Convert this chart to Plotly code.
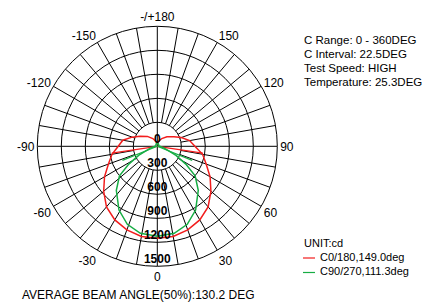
import plotly.graph_objects as go

# ---------------- data ----------------
red_gamma = [-180, -165, -150, -135, -120, -110, -100, -90, -80, -70, -60, -50, -40, -30, -20, -10,
             0, 10, 20, 30, 40, 50, 60, 70, 80, 90, 100, 110, 120, 135, 150, 165, 180]
red_cd = [25, 62, 112, 175, 250, 335, 438, 488, 575, 650, 762, 875, 988, 1062, 1112, 1144,
          1150, 1144, 1112, 1062, 988, 875, 762, 650, 575, 470, 410, 320, 240, 170, 112, 62, 25]

green_gamma = [-180, -160, -135, -110, -90, -75, -64, -58, -52, -43, -31, -21, -11,
               0, 11, 21, 31, 43, 52, 58, 64, 75, 90, 110, 135, 160, 180]
green_cd = [35, 35, 25, 20, 30, 90, 260, 420, 600, 751, 930, 1045, 1108,
            1125, 1108, 1045, 930, 751, 600, 420, 260, 90, 30, 20, 25, 35, 35]

red_spike_gamma = [-81.5, 81.5]
red_spike_cd = [575, 575]
green_spike_gamma = [-68, 68]
green_spike_cd = [470, 470]

radial_ticks = [0, 300, 600, 900, 1200, 1500]
radial_labels = ["0", "300", "600", "900", "1200", "1500"]

angle_tickvals = [0, 30, 60, 90, 120, 150, 180, 210, 240, 270, 300, 330]
angle_ticktext = ["0", "30", "60", "90", "120", "150", "-/+180", "-150", "-120", "-90", "-60", "-30"]

info_lines = ["C Range: 0 - 360DEG", "C Interval: 22.5DEG", "Test Speed: HIGH", "Temperature: 25.3DEG"]
legend_title = "UNIT:cd"
series_names = ["C0/180,149.0deg", "C90/270,111.3deg"]
footer = "AVERAGE BEAM ANGLE(50%):130.2 DEG"

RED = "#f21d1d"
GREEN = "#17ad44"
FONT = "Liberation Sans, Arial, sans-serif"

W, H = 436, 304
cx, cy, R = 157.3, 146.3, 120.0

fig = go.Figure()

# spokes (every 10 deg, from first ring outwards), main axes through centre
rmax = radial_ticks[-1]
rin = radial_ticks[1]
sp_r, sp_t = [], []
for a in range(0, 360, 10):
    if a % 90 == 0:
        continue
    sp_r += [rin, rmax, None]
    sp_t += [a, a, None]
for a in (0, 90):
    sp_r += [rmax, 0, rmax, None]
    sp_t += [a, a, a + 180, None]
fig.add_trace(go.Scatterpolar(r=sp_r, theta=sp_t, mode="lines",
                              line=dict(color="black", width=1), hoverinfo="skip",
                              connectgaps=False))

# curves
fig.add_trace(go.Scatterpolar(r=red_cd, theta=red_gamma, mode="lines",
                              line=dict(color=RED, width=1.5), name=series_names[0]))
rs_r, rs_t = [], []
for g, v in zip(red_spike_gamma, red_spike_cd):
    rs_r += [0, v, None]
    rs_t += [g, g, None]
fig.add_trace(go.Scatterpolar(r=rs_r, theta=rs_t, mode="lines",
                              line=dict(color=RED, width=1.2), connectgaps=False))

fig.add_trace(go.Scatterpolar(r=green_cd, theta=green_gamma, mode="lines",
                              line=dict(color=GREEN, width=1.5), name=series_names[1]))
gs_r, gs_t = [], []
for g, v in zip(green_spike_gamma, green_spike_cd):
    gs_r += [0, v, None]
    gs_t += [g, g, None]
fig.add_trace(go.Scatterpolar(r=gs_r, theta=gs_t, mode="lines",
                              line=dict(color=GREEN, width=1.2), connectgaps=False))

# radial labels
fig.add_trace(go.Scatterpolar(r=radial_ticks, theta=[0] * len(radial_ticks), mode="text",
                              text=radial_labels, textposition="top center",
                              textfont=dict(family=FONT, size=12, color="black", weight="bold"),
                              hoverinfo="skip"))

fig.update_layout(
    width=W, height=H, margin=dict(l=0, r=0, t=0, b=0),
    paper_bgcolor="white", plot_bgcolor="white", showlegend=False,
    font=dict(family=FONT, color="black"),
    polar=dict(
        domain=dict(x=[(cx - R) / W, (cx + R) / W], y=[(H - cy - R) / H, (H - cy + R) / H]),
        bgcolor="white",
        angularaxis=dict(rotation=-90, direction="counterclockwise", tickmode="array",
                         tickvals=angle_tickvals, ticktext=angle_ticktext, showgrid=False,
                         ticks="", showline=True, linecolor="black", linewidth=1,
                         tickfont=dict(family=FONT, size=12, color="black")),
        radialaxis=dict(range=[0, rmax], tickmode="array", tickvals=radial_ticks[1:-1],
                        showticklabels=False, showline=False, ticks="",
                        gridcolor="black", gridwidth=1),
    ),
)

# info text
info_y = [39.5, 53.5, 67.5, 81.5]
for txt, yy in zip(info_lines, info_y):
    fig.add_annotation(x=302 / W, y=1 - yy / H, xref="paper", yref="paper", text=txt,
                       showarrow=False, xanchor="left", yanchor="middle",
                       font=dict(family=FONT, size=11.5, color="black"))

# legend
fig.add_annotation(x=302 / W, y=1 - 243 / H, xref="paper", yref="paper", text=legend_title,
                   showarrow=False, xanchor="left", yanchor="middle",
                   font=dict(family=FONT, size=11, color="black"))
for i, (nm, col) in enumerate(zip(series_names, [RED, GREEN])):
    yy = 256.5 + i * 14.5
    fig.add_shape(type="line", xref="paper", yref="paper", x0=303 / W, x1=315 / W,
                  y0=1 - (yy + 1.5) / H, y1=1 - (yy + 1.5) / H, line=dict(color=col, width=1.2))
    fig.add_annotation(x=318 / W, y=1 - yy / H, xref="paper", yref="paper", text=nm,
                       showarrow=False, xanchor="left", yanchor="middle",
                       font=dict(family=FONT, size=11, color="black"))

fig.add_annotation(x=20 / W, y=1 - 294.5 / H, xref="paper", yref="paper", text=footer,
                   showarrow=False, xanchor="left", yanchor="middle",
                   font=dict(family=FONT, size=12, color="black"))

fig.write_html("out.html", config={"displayModeBar": False},
               post_script="document.body.style.margin='0';document.body.style.padding='0';")
